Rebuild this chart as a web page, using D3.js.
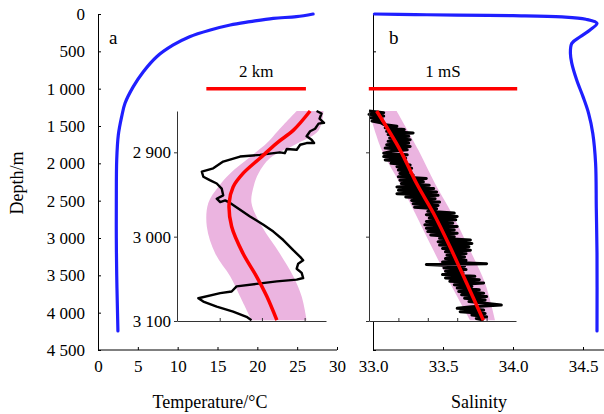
<!DOCTYPE html>
<html><head><meta charset="utf-8">
<script src="https://cdn.jsdelivr.net/npm/d3@7"></script>
<style>
body{margin:0;background:#fff}
svg{display:block}
text{font-family:"Liberation Serif","Times New Roman",serif !important;fill:#000}
</style>
</head><body>
<svg id="c" width="604" height="414"></svg>
<script>
// ---------- data ----------
const depthTicks = [0,500,1000,1500,2000,2500,3000,3500,4000,4500];
const depthTickLabels = ["0","500","1 000","1 500","2 000","2 500","3 000","3 500","4 000","4 500"];
const tempTicks = [0,5,10,15,20,25,30];
const salTicks = [33.0,33.5,34.0,34.5];
const salTickLabels = ["33.0","33.5","34.0","34.5"];

// main temperature profile (panel a)
const tempDepth = [0,36,58,103,147,214,304,415,572,773,973,1196,1375,1620,1950,2500,3000,3500,4000,4245];
const tempValue = [27.0,24.9,22.0,19.1,16.6,14.1,11.5,9.45,7.37,5.69,4.43,3.39,2.97,2.55,2.35,2.3,2.3,2.35,2.45,2.5];

// main salinity profile (panel b)
const salDepth = [0,8,14,22,38,70,125,214,304,393,527,661,884,1107,1330,1600,2000,2600,3200,4245];
const salValue = [33.01,33.3,33.6,34.0,34.35,34.52,34.60,34.55,34.48,34.42,34.41,34.42,34.455,34.50,34.54,34.57,34.59,34.595,34.60,34.60];

// inset a (distance, km)
const insetTicksDepth = [2900,3000,3100];
const insetTickLabels = ["2 900","3 000","3 100"];
const insetAxTicks = [0.86,1.71,2.57];
const insetARedDepth = [2851,2874,2889,2907,2925,2941,2960,2988,3020,3047,3071,3099];
const insetARed  = [2.68,2.34,2.01,1.67,1.33,1.13,1.05,1.10,1.33,1.60,1.81,2.01];
const insetALow  = [2.41,2.04,1.81,1.44,1.07,0.83,0.63,0.60,0.77,1.07,1.27,1.50];
const insetAHigh = [2.95,2.85,2.44,1.87,1.64,1.54,1.50,1.71,2.07,2.34,2.51,2.61];
const insetABlackDepth = [2851,2854,2860,2865,2866,2872,2875,2881,2885,2889,2889,2891,2897,2896,2901,2900,2903,2905,2911,2919,2923,2929,2933,2937,2943,2951,2955,2959,2957,2960,2968,2976,2986,2994,3004,3016,3024,3028,3032,3038,3043,3049,3051,3053,3056,3059,3065,3067,3073,3077,3083,3089,3095,3099];
const insetABlack = [2.81,2.91,2.87,2.96,2.85,2.78,2.68,2.61,2.71,2.76,2.61,2.48,2.41,2.21,2.17,2.07,1.67,1.27,0.93,0.73,0.50,0.53,0.66,0.80,0.90,0.93,0.80,0.87,0.97,1.07,1.27,1.47,1.74,1.94,2.14,2.34,2.48,2.54,2.44,2.41,2.51,2.54,2.41,2.01,1.60,1.20,1.10,0.87,0.43,0.53,0.80,1.13,1.40,1.50];

// inset b (salinity anomaly, mS)
const insetBxTicks = [0.2,0.4,0.6,0.8];
const insetBRedDepth = [2851,2897,2937,2972,3012,3055,3099];
const insetBRed  = [0.052,0.211,0.324,0.438,0.551,0.664,0.778];
const insetBLow  = [0.0,0.086,0.211,0.313,0.426,0.551,0.687];
const insetBHigh = [0.188,0.335,0.449,0.562,0.676,0.789,0.857];
const insetBBlackDepth = [2851,2853,2855,2857,2859,2861,2863,2865,2867,2869,2871,2873,2875,2877,2879,2881,2883,2885,2887,2889,2891,2893,2895,2897,2899,2901,2903,2905,2907,2909,2911,2913,2915,2917,2919,2921,2923,2925,2927,2929,2931,2933,2935,2937,2939,2941,2943,2945,2947,2949,2951,2953,2955,2957,2959,2961,2963,2965,2967,2970,2972,2974,2976,2978,2980,2982,2984,2986,2988,2990,2992,2994,2996,2998,3000,3002,3004,3006,3008,3010,3012,3014,3016,3018,3020,3022,3024,3026,3028,3030,3032,3033,3035,3037,3039,3041,3043,3045,3047,3049,3051,3053,3055,3057,3059,3061,3063,3065,3067,3069,3071,3073,3075,3077,3081,3083,3085,3087,3089,3091,3093,3095,3097,3099];
const insetBBlack = [0.00,0.10,0.00,0.10,0.01,0.09,0.02,0.08,0.10,0.19,0.11,0.24,0.12,0.30,0.13,0.27,0.14,0.28,0.13,0.27,0.12,0.28,0.11,0.26,0.15,0.10,0.26,0.10,0.25,0.11,0.24,0.15,0.28,0.19,0.29,0.20,0.27,0.21,0.30,0.20,0.39,0.21,0.37,0.22,0.41,0.19,0.44,0.20,0.46,0.19,0.47,0.25,0.45,0.29,0.48,0.30,0.47,0.31,0.46,0.40,0.58,0.39,0.60,0.41,0.59,0.39,0.57,0.38,0.60,0.39,0.58,0.40,0.60,0.42,0.58,0.48,0.69,0.47,0.70,0.48,0.68,0.50,0.69,0.52,0.66,0.53,0.65,0.52,0.66,0.50,0.80,0.39,0.65,0.51,0.66,0.52,0.64,0.50,0.72,0.52,0.75,0.55,0.78,0.58,0.70,0.60,0.75,0.61,0.78,0.63,0.80,0.65,0.79,0.68,0.90,0.70,0.60,0.78,0.62,0.79,0.70,0.80,0.73,0.78];

// scale bars
const barADepth = 1000, barATemp = [13.6, 26.1], barAText = "2 km";
const barBDepth = 1000, barBSal = [32.97, 34.03], barBText = "1 mS";

// ---------- drawing ----------
const FONT = '"Liberation Serif","Times New Roman",serif';
const svg = d3.select("#c").attr("font-family", FONT);
const BLUE = "#1f1fff", RED = "#ff0000", PINK = "#ebb4e0", AX = "#000";

const y = d3.scaleLinear().domain([0,4500]).range([14,350]);
const xT = d3.scaleLinear().domain([0,30]).range([98,337]);
const xS = d3.scaleLinear().domain([33,34.5]).range([373,583]);

function styleText(sel, size) {
  sel.attr("font-family", FONT).attr("font-size", size).style("font-family", FONT).style("font-size", size + "px").attr("fill","#000");
}
function vAxis(g, x0, labels) {
  const ax = d3.axisLeft(y).tickValues(depthTicks).tickSizeInner(-3).tickSizeOuter(0)
    .tickFormat((d,i)=> labels ? depthTickLabels[i] : "");
  g.attr("transform",`translate(${x0},0)`).call(ax).attr("font-family", FONT);
  g.select(".domain").attr("stroke",AX);
  g.selectAll(".tick line").attr("stroke",AX);
  styleText(g.selectAll(".tick text").attr("x",-13), 17);
}
function hAxis(g, scale, ticks, fmt, x1) {
  const ax = d3.axisBottom(scale).tickValues(ticks).tickSizeInner(-3).tickSizeOuter(0).tickFormat(fmt);
  g.attr("transform",`translate(0,350)`).call(ax).attr("font-family", FONT);
  g.select(".domain").remove();
  g.insert("line",":first-child").attr("x1",scale.range()[0]).attr("x2",x1).attr("y1",0).attr("y2",0).attr("stroke",AX);
  g.selectAll(".tick line").attr("stroke",AX);
  styleText(g.selectAll(".tick text").attr("y",10), 17);
}

// left panel axes
vAxis(svg.append("g"), 98, true);
hAxis(svg.append("g"), xT, tempTicks, d=>d, 337);
// right panel axes
vAxis(svg.append("g"), 373, false);
hAxis(svg.append("g"), xS, salTicks, (d,i)=>salTickLabels[i], 604);

// blue profiles
const tempPts = tempDepth.map((d,i)=>[xT(tempValue[i]), y(d)]);
svg.append("path").attr("d", d3.line().curve(d3.curveCatmullRom.alpha(0.5))(tempPts))
  .attr("fill","none").attr("stroke",BLUE).attr("stroke-width",3.2).attr("stroke-linecap","round");
const salPts = salDepth.map((d,i)=>[xS(salValue[i]), y(d)]);
svg.append("path").attr("d", d3.line().curve(d3.curveCatmullRom.alpha(0.5))(salPts))
  .attr("fill","none").attr("stroke",BLUE).attr("stroke-width",3.2).attr("stroke-linecap","round");

// insets
const yi = d3.scaleLinear().domain([2851,3100]).range([111,321]);
function inset(x0, x1, domain, red, low, high, redDepth, blk, blkDepth, xticks, labels, blkWidth) {
  const curve = d3.curveCatmullRom.alpha(0.5);
  const xi = d3.scaleLinear().domain(domain).range([x0,x1]);
  const g = svg.append("g");
  g.append("rect").attr("x",x0).attr("y",111).attr("width",x1-x0).attr("height",210).attr("fill","#fff");
  const area = d3.area().curve(curve).y(d=>yi(d[0])).x0(d=>xi(d[1])).x1(d=>xi(d[2]));
  g.append("path").attr("d", area(redDepth.map((d,i)=>[d,low[i],high[i]]))).attr("fill",PINK);
  g.append("path").attr("d", d3.line()(blkDepth.map((d,i)=>[xi(blk[i]), yi(d)])))
    .attr("fill","none").attr("stroke","#000").attr("stroke-width",blkWidth).attr("stroke-linejoin","round");
  g.append("path").attr("d", d3.line().curve(curve)(redDepth.map((d,i)=>[xi(red[i]), yi(d)])))
    .attr("fill","none").attr("stroke",RED).attr("stroke-width",3.5);
  const ay = d3.axisLeft(yi).tickValues(insetTicksDepth).tickSizeInner(3).tickSizeOuter(0)
    .tickFormat((d,i)=> labels ? insetTickLabels[i] : "");
  const gy = g.append("g").attr("transform",`translate(${x0},0)`).call(ay).attr("font-family", FONT);
  gy.select(".domain").attr("stroke","#333");
  gy.selectAll(".tick line").attr("stroke","#333");
  styleText(gy.selectAll(".tick text").attr("x",-6), 17);
  const ax = d3.axisBottom(xi).tickValues(xticks).tickSizeInner(-3).tickSizeOuter(0).tickFormat("");
  const gx = g.append("g").attr("transform",`translate(0,321)`).call(ax);
  gx.select(".domain").attr("stroke","#333");
  gx.selectAll(".tick line").attr("stroke","#333");
}
inset(177, 326, [0,3], insetARed, insetALow, insetAHigh, insetARedDepth, insetABlack, insetABlackDepth, insetAxTicks, true, 2.4);
inset(369, 516, [0,1], insetBRed, insetBLow, insetBHigh, insetBRedDepth, insetBBlack, insetBBlackDepth, insetBxTicks, false, 3);

// scale bars
svg.append("line").attr("x1",xT(barATemp[0])).attr("x2",xT(barATemp[1])).attr("y1",y(barADepth)).attr("y2",y(barADepth))
  .attr("stroke",RED).attr("stroke-width",3.5);
styleText(svg.append("text").attr("x",(xT(barATemp[0])+xT(barATemp[1]))/2).attr("y",y(barADepth)-12)
  .attr("text-anchor","middle").text(barAText), 17);
svg.append("line").attr("x1",xS(barBSal[0])).attr("x2",xS(barBSal[1])).attr("y1",y(barBDepth)).attr("y2",y(barBDepth))
  .attr("stroke",RED).attr("stroke-width",3.5);
styleText(svg.append("text").attr("x",(xS(barBSal[0])+xS(barBSal[1]))/2).attr("y",y(barBDepth)-12)
  .attr("text-anchor","middle").text(barBText), 17);

// panel letters
styleText(svg.append("text").attr("x",109).attr("y",44).text("a"), 19);
styleText(svg.append("text").attr("x",389).attr("y",44).text("b"), 19);

// axis titles
styleText(svg.append("text").attr("x",210).attr("y",408).attr("text-anchor","middle").text("Temperature/°C"), 18);
styleText(svg.append("text").attr("x",479).attr("y",408).attr("text-anchor","middle").text("Salinity"), 18);
styleText(svg.append("text").attr("transform","translate(23,183) rotate(-90)").attr("text-anchor","middle").text("Depth/m"), 18);
</script>
</body></html>
